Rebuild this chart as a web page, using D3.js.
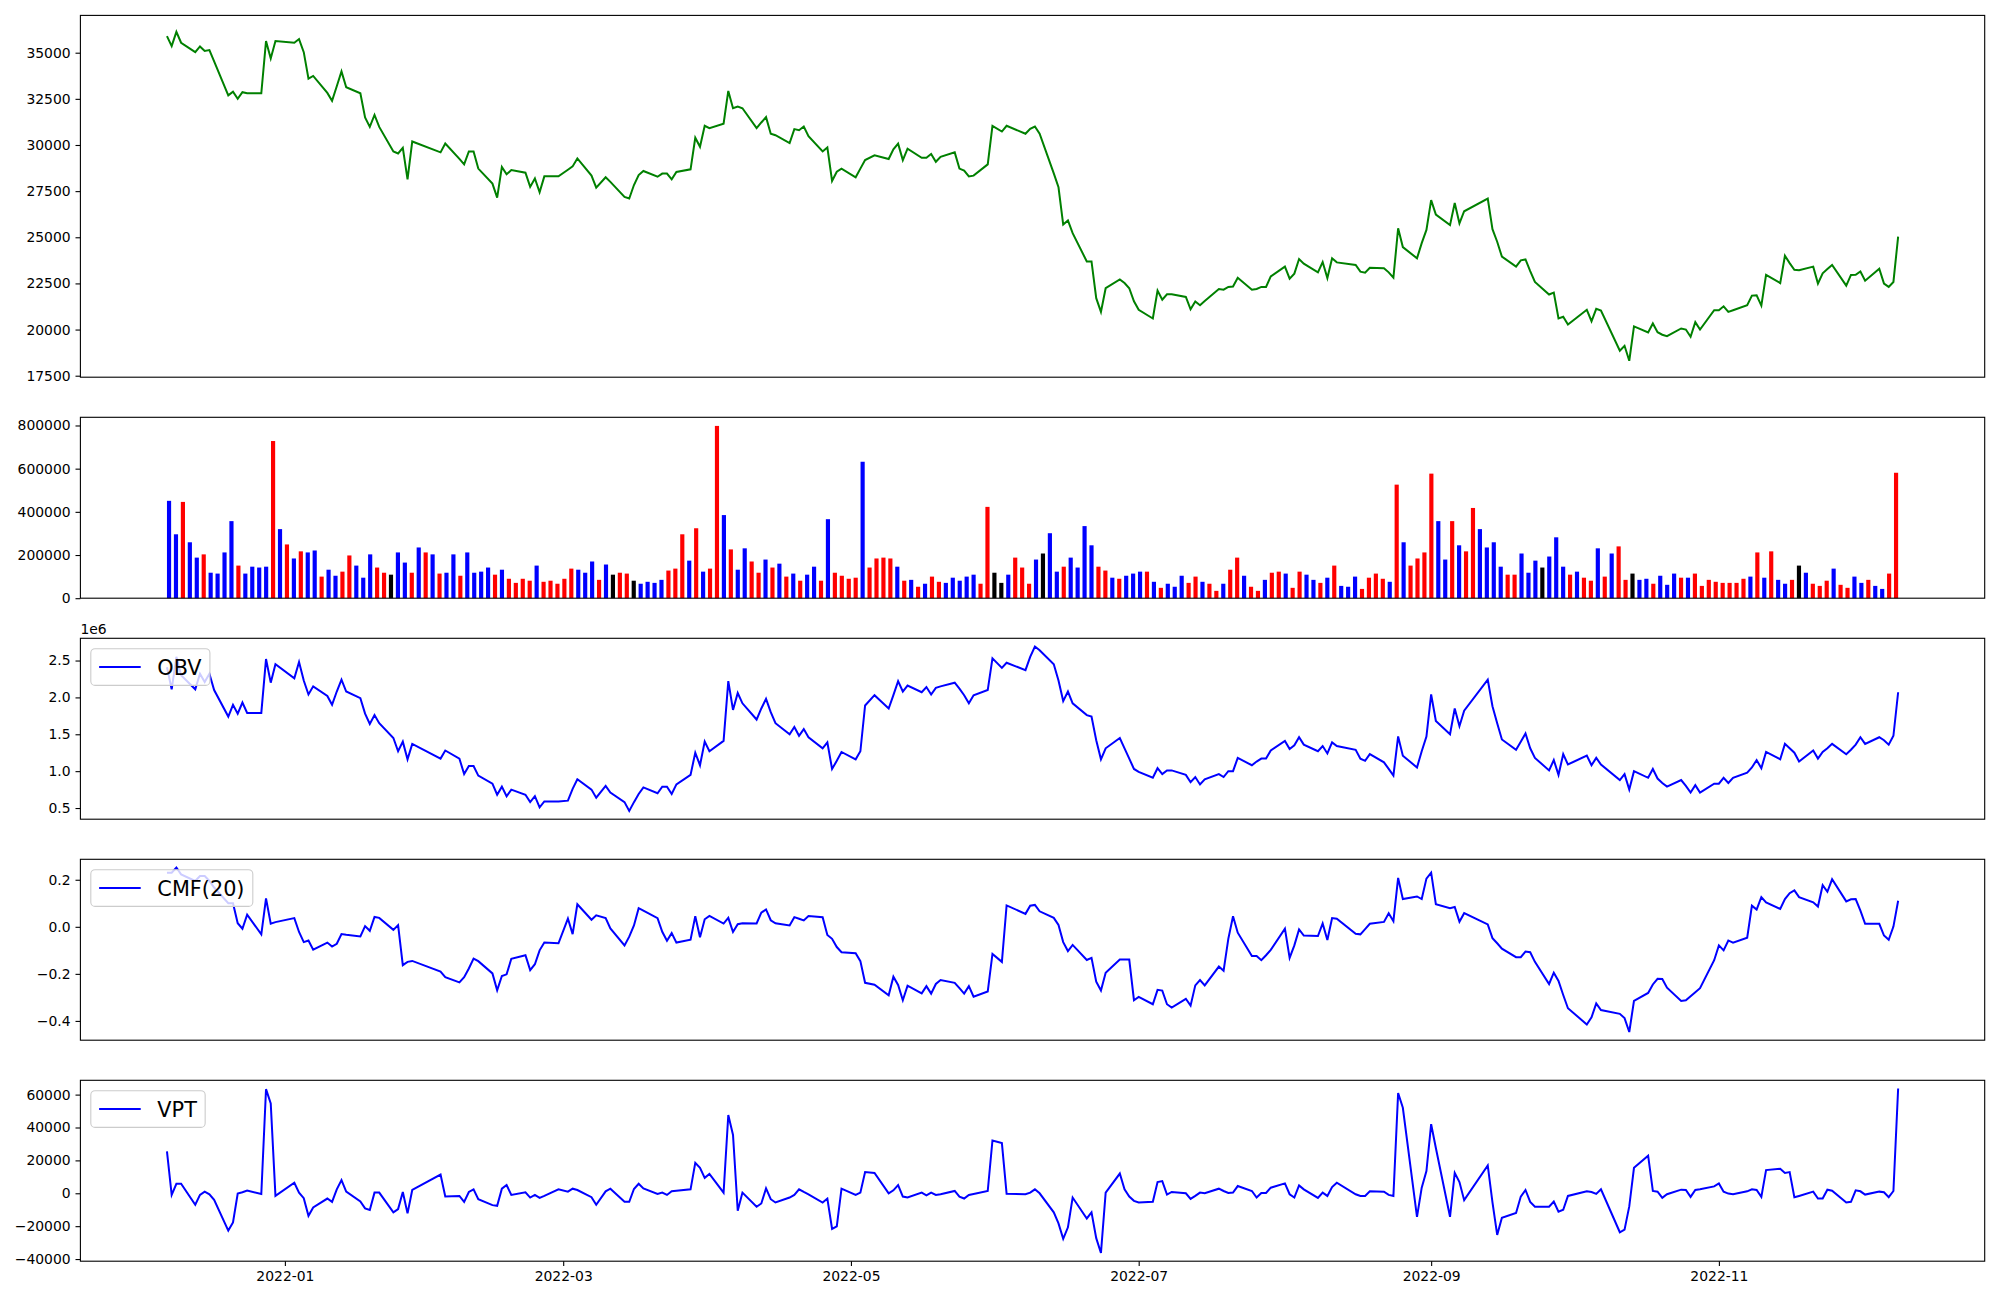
<!DOCTYPE html>
<html><head><meta charset="utf-8">
<script src="https://cdn.jsdelivr.net/npm/d3@7"></script>
<style>body{margin:0;background:#fff}svg{display:block}</style>
</head><body><svg id="c" width="2000" height="1300"></svg>
<script>
const dates = [
"2021-12-07","2021-12-08","2021-12-09","2021-12-10","2021-12-13","2021-12-14","2021-12-15","2021-12-16","2021-12-17","2021-12-20","2021-12-21","2021-12-22","2021-12-23","2021-12-24","2021-12-27","2021-12-28","2021-12-29","2021-12-30",
"2022-01-03","2022-01-04","2022-01-05","2022-01-06","2022-01-07","2022-01-10","2022-01-11","2022-01-12","2022-01-13","2022-01-14","2022-01-17","2022-01-18","2022-01-19","2022-01-20","2022-01-21","2022-01-24","2022-01-25","2022-01-26","2022-01-27","2022-01-28",
"2022-02-03","2022-02-04","2022-02-07","2022-02-08","2022-02-09","2022-02-10","2022-02-11","2022-02-14","2022-02-15","2022-02-16","2022-02-17","2022-02-18","2022-02-21","2022-02-22","2022-02-23","2022-02-24","2022-02-25","2022-02-28",
"2022-03-02","2022-03-03","2022-03-04","2022-03-07","2022-03-08","2022-03-10","2022-03-11","2022-03-14","2022-03-15","2022-03-16","2022-03-17","2022-03-18","2022-03-21","2022-03-22","2022-03-23","2022-03-24","2022-03-25","2022-03-28","2022-03-29","2022-03-30","2022-03-31",
"2022-04-01","2022-04-04","2022-04-05","2022-04-06","2022-04-07","2022-04-08","2022-04-11","2022-04-12","2022-04-13","2022-04-14","2022-04-15","2022-04-18","2022-04-19","2022-04-20","2022-04-21","2022-04-22","2022-04-25","2022-04-26","2022-04-27","2022-04-28","2022-04-29",
"2022-05-02","2022-05-03","2022-05-04","2022-05-06","2022-05-09","2022-05-10","2022-05-11","2022-05-12","2022-05-13","2022-05-16","2022-05-17","2022-05-18","2022-05-19","2022-05-20","2022-05-23","2022-05-24","2022-05-25","2022-05-26","2022-05-27","2022-05-30","2022-05-31",
"2022-06-02","2022-06-03","2022-06-07","2022-06-08","2022-06-09","2022-06-10","2022-06-13","2022-06-14","2022-06-15","2022-06-16","2022-06-17","2022-06-20","2022-06-21","2022-06-22","2022-06-23","2022-06-24","2022-06-27","2022-06-28","2022-06-29","2022-06-30",
"2022-07-01","2022-07-04","2022-07-05","2022-07-06","2022-07-07","2022-07-08","2022-07-11","2022-07-12","2022-07-13","2022-07-14","2022-07-15","2022-07-18","2022-07-19","2022-07-20","2022-07-21","2022-07-22","2022-07-25","2022-07-26","2022-07-27","2022-07-28","2022-07-29",
"2022-08-01","2022-08-02","2022-08-03","2022-08-04","2022-08-05","2022-08-08","2022-08-09","2022-08-10","2022-08-11","2022-08-12","2022-08-16","2022-08-17","2022-08-18","2022-08-19","2022-08-22","2022-08-23","2022-08-24","2022-08-25","2022-08-26","2022-08-29","2022-08-30","2022-08-31",
"2022-09-01","2022-09-02","2022-09-05","2022-09-06","2022-09-07","2022-09-08","2022-09-13","2022-09-14","2022-09-15","2022-09-16","2022-09-19","2022-09-20","2022-09-21","2022-09-22","2022-09-23","2022-09-26","2022-09-27","2022-09-28","2022-09-29","2022-09-30",
"2022-10-04","2022-10-05","2022-10-06","2022-10-07","2022-10-11","2022-10-12","2022-10-13","2022-10-14","2022-10-17","2022-10-18","2022-10-19","2022-10-20","2022-10-21","2022-10-24","2022-10-25","2022-10-26","2022-10-27","2022-10-28","2022-10-31",
"2022-11-01","2022-11-02","2022-11-03","2022-11-04","2022-11-07","2022-11-08","2022-11-09","2022-11-10","2022-11-11","2022-11-14","2022-11-15","2022-11-16","2022-11-17","2022-11-18","2022-11-21","2022-11-22","2022-11-23","2022-11-24","2022-11-25","2022-11-28","2022-11-29","2022-11-30",
"2022-12-01","2022-12-02","2022-12-05","2022-12-06","2022-12-07","2022-12-08","2022-12-09"];

const closePrice = [
35900,35360,36130,35540,35030,35340,35090,35140,34530,32690,32890,32500,32860,32800,32800,35630,34690,35630,
35540,35740,35030,33590,33740,32820,32390,33180,33990,33130,32800,31490,30980,31630,30980,29650,29540,29850,28140,30190,
29600,30080,29250,28950,29650,29650,28720,27910,27150,28810,28410,28640,28500,27730,28190,27440,28300,28300,
28660,28840,29270,28340,27690,28250,28000,27190,27100,27830,28370,28590,28280,28450,28450,28140,28540,28680,30390,29900,31040,
30910,31150,32930,31990,32080,31990,30910,31220,31510,30610,30530,30100,30860,30800,31000,30480,29650,29870,28050,28550,28720,
28250,28720,29180,29440,29240,29760,30070,29180,29800,29310,29310,29510,29090,29360,29600,28720,28610,28300,28340,28950,31040,
30730,31040,30610,30880,31000,30610,28460,27710,25690,25910,25220,23690,23690,21700,20960,22240,22720,22520,22240,21530,
21070,20600,22110,21620,21910,21910,21770,21100,21520,21320,21550,22200,22160,22310,22330,22810,22160,22200,22310,22310,22880,
23410,22760,23030,23820,23570,23100,23660,22790,23860,23640,23500,23140,23080,23350,23320,23100,22810,25490,24470,23860,24680,25400,
27010,26230,25660,26860,25750,26410,27100,25440,24760,23950,23410,23750,23800,23170,22580,21900,22000,20600,20690,20270,
21070,20450,21120,21030,18850,19120,18310,20170,19840,20330,19860,19720,19640,20060,20000,19610,20400,20000,21050,
21050,21260,20960,21050,21320,21840,21860,21300,22960,22520,24000,23600,23240,23210,23410,22490,23050,23280,23500,22380,22960,22970,
23150,22650,23300,22490,22310,22580,25040];

const volume = [
451000,296000,446000,259000,188000,203000,118000,114000,212000,357000,
151000,114000,146000,142000,146000,728000,320000,249000,184000,217000,
212000,221000,100000,132000,104000,123000,198000,151000,95000,203000,
142000,118000,109000,212000,165000,118000,235000,212000,203000,114000,
118000,203000,104000,212000,118000,123000,142000,109000,132000,90000,
71000,90000,81000,151000,76000,81000,67000,90000,137000,132000,
118000,170000,85000,156000,109000,118000,114000,81000,67000,76000,
71000,85000,128000,137000,296000,174000,324000,123000,137000,798000,
385000,226000,132000,231000,170000,118000,179000,142000,160000,100000,
114000,81000,109000,146000,81000,366000,118000,104000,90000,95000,
632000,142000,184000,188000,184000,146000,81000,85000,53000,67000,
100000,76000,71000,95000,81000,100000,109000,67000,423000,118000,
71000,109000,188000,142000,67000,179000,207000,301000,123000,146000,
188000,142000,334000,245000,146000,128000,95000,90000,104000,114000,
123000,123000,76000,48000,67000,53000,104000,71000,100000,76000,
67000,34000,67000,132000,188000,104000,53000,34000,85000,118000,
123000,114000,48000,123000,109000,85000,71000,95000,151000,57000,
53000,100000,43000,95000,114000,90000,76000,526000,259000,151000,
184000,212000,577000,357000,179000,357000,245000,217000,418000,320000,
235000,259000,146000,109000,109000,207000,118000,174000,142000,193000,
282000,146000,109000,123000,95000,81000,231000,100000,207000,240000,
85000,114000,85000,90000,67000,104000,62000,114000,95000,95000,
114000,57000,85000,76000,71000,71000,71000,90000,100000,212000,
95000,217000,85000,67000,85000,151000,118000,67000,57000,81000,
137000,62000,48000,100000,71000,85000,57000,43000,114000,581000];

// r = red, b = blue, k = black (one letter per bar)
const volColorRows = [
"bbrbbrbbbb","rbbbbrbrbr","bbrbbrrbbb","rrkbbrbrbr","bbrbbbbrbr",
"rrrbrrrrrb","bbrbkrrkbb","bbrrrbrbrr","brbbrrbrbr","brbbrbrrrr",
"brrrrbrbrb","rrbbbbbrrk","kbrrrbkbbr","bbbbrrbrbb","brbrbbbrrb",
"rrbrrbrrbr","rbrrbbrbrb","bbrrrrbrbr","rrrbbrbrrb","bbbrrbbbkb",
"bbrbrrbrbr","rkbbrbbbrb","rrrrrrrrbr","brbbrkbrrr","brrbbrbbrr"];

// On-balance volume, in units of 1e6
const obv = [
2.41,2.11,2.55,2.30,2.11,2.32,2.21,2.32,2.10,1.74,1.90,1.78,1.93,1.79,1.79,2.52,2.20,2.45,
2.26,2.48,2.23,2.04,2.15,2.02,1.90,2.08,2.24,2.08,1.99,1.78,1.64,1.76,1.65,1.45,1.27,1.40,1.16,1.37,
1.17,1.28,1.17,0.96,1.07,1.07,0.94,0.83,0.68,0.79,0.66,0.75,0.68,0.58,0.66,0.51,0.59,0.59,
0.60,0.76,0.89,0.75,0.64,0.80,0.71,0.58,0.46,0.58,0.69,0.78,0.70,0.79,0.79,0.69,0.82,0.95,1.25,1.08,1.40,
1.27,1.41,2.22,1.83,2.06,1.92,1.70,1.85,1.98,1.80,1.65,1.50,1.60,1.48,1.57,1.46,1.31,1.39,1.03,1.14,1.26,
1.16,1.27,1.89,2.03,1.85,2.03,2.22,2.08,2.16,2.07,2.14,2.04,2.13,2.15,2.20,2.12,2.03,1.92,2.03,2.10,2.53,
2.40,2.47,2.37,2.55,2.69,2.64,2.45,2.23,1.95,2.08,1.92,1.76,1.74,1.42,1.16,1.31,1.45,1.31,1.17,1.03,
0.99,0.91,1.04,0.96,1.01,1.01,0.95,0.85,0.92,0.82,0.89,0.96,0.92,1.00,1.00,1.18,1.08,1.13,1.17,1.17,1.28,
1.41,1.30,1.35,1.46,1.36,1.27,1.34,1.24,1.39,1.34,1.29,1.17,1.14,1.23,1.12,1.03,0.94,1.47,1.21,1.05,1.27,1.47,
2.04,1.68,1.50,1.85,1.61,1.82,2.24,1.88,1.65,1.43,1.29,1.40,1.51,1.31,1.18,1.01,1.15,0.95,1.23,1.09,
1.21,1.08,1.18,1.09,0.88,0.96,0.75,1.00,0.91,1.03,0.90,0.84,0.79,0.88,0.80,0.71,0.81,0.71,0.83,
0.83,0.91,0.84,0.91,0.98,1.05,1.15,1.04,1.26,1.16,1.37,1.31,1.25,1.13,1.28,1.17,1.26,1.31,1.37,1.23,1.29,1.36,
1.46,1.37,1.46,1.42,1.36,1.48,2.07];

const cmf = [
0.230,0.230,0.252,0.223,0.195,0.216,0.216,0.195,0.167,0.100,0.100,0.015,-0.008,0.052,-0.032,0.121,0.013,0.020,
0.037,-0.022,-0.065,-0.058,-0.097,-0.067,-0.084,-0.072,-0.031,-0.034,-0.041,0.003,-0.017,0.042,0.038,-0.013,0.007,-0.163,-0.149,-0.145,
-0.190,-0.214,-0.236,-0.214,-0.177,-0.135,-0.146,-0.198,-0.270,-0.209,-0.202,-0.136,-0.121,-0.184,-0.159,-0.100,-0.067,-0.070,
0.035,-0.031,0.096,0.030,0.049,0.037,-0.007,-0.079,-0.042,0.006,0.079,0.069,0.037,-0.021,-0.059,-0.027,-0.067,-0.055,0.045,-0.044,0.032,
0.046,0.014,0.038,-0.022,0.011,0.015,0.014,0.060,0.074,0.028,0.015,0.006,0.041,0.034,0.027,0.046,0.041,-0.035,-0.051,-0.086,-0.108,
-0.112,-0.146,-0.238,-0.246,-0.291,-0.212,-0.247,-0.312,-0.250,-0.283,-0.252,-0.284,-0.243,-0.226,-0.238,-0.261,-0.284,-0.252,-0.297,-0.275,-0.115,
-0.149,0.091,0.055,0.090,0.093,0.066,0.038,0.008,-0.065,-0.103,-0.077,-0.141,-0.132,-0.233,-0.271,-0.195,-0.139,-0.139,-0.139,-0.312,
-0.298,-0.329,-0.268,-0.271,-0.329,-0.343,-0.306,-0.335,-0.249,-0.226,-0.249,-0.169,-0.187,-0.051,0.045,-0.025,-0.124,-0.124,-0.142,-0.121,-0.098,
-0.008,-0.132,-0.079,-0.011,-0.037,-0.039,0.014,-0.056,0.037,0.034,-0.030,-0.032,-0.010,0.013,0.021,0.058,0.024,0.208,0.118,0.129,0.118,0.205,
0.230,0.096,0.079,0.084,0.022,0.058,0.010,-0.048,-0.070,-0.093,-0.129,-0.129,-0.105,-0.108,-0.149,-0.243,-0.195,-0.230,-0.290,-0.346,
-0.415,-0.385,-0.326,-0.354,-0.370,-0.388,-0.447,-0.315,-0.281,-0.245,-0.221,-0.222,-0.259,-0.315,-0.312,-0.295,-0.278,-0.261,-0.142,
-0.079,-0.100,-0.058,-0.067,-0.046,0.090,0.073,0.126,0.104,0.076,0.118,0.143,0.155,0.126,0.104,0.086,0.177,0.149,0.202,0.108,0.117,0.118,
0.069,0.013,0.013,-0.037,-0.055,0.001,0.111];

const vpt = [
25500,-1000,5800,5800,-7000,-1000,1000,-600,-4000,-22700,-17700,-200,600,1600,-400,63300,54600,-1600,
6400,400,-3000,-13700,-8600,-3200,-5200,2400,8000,1000,-5000,-9200,-10200,400,400,-11600,-9600,800,-12200,2000,
11400,-2000,-1600,-5200,800,2400,-3600,-7200,-7600,2800,5000,-1000,600,-2600,-1000,-2800,-1600,2400,
1000,2800,2000,-2400,-7000,1200,2800,-5200,-5200,2600,5800,3000,-400,400,-1000,1200,1600,2400,18500,15500,9400,
11800,400,47600,35500,-10600,400,-8200,-6200,3000,-3600,-5600,-2600,-1000,2400,800,-600,-5600,-3200,-21700,-20100,2800,
-1000,400,12900,12400,0,1800,5000,-2000,-2600,400,-1200,400,-1000,-600,1400,-2000,-3200,-1000,-400,1400,32100,
30500,-300,-600,400,2400,0,-11600,-18300,-27700,-20700,-2600,-15300,-11600,-27300,-36300,400,12000,2400,-2000,-4600,
-5600,-5200,6800,7400,-800,800,0,-3400,-1600,400,0,2800,1400,200,400,4400,1400,-2600,200,200,3400,
6000,-600,-2600,4800,2400,-2800,400,-1600,3800,6400,-600,-1600,-1600,1200,1000,-1000,-1600,61000,52000,-14300,3400,13500,
42000,27500,-14300,12400,6800,-4200,16900,-5600,-25300,-14900,-12000,-2000,2000,-5200,-8200,-8200,-5000,-11200,-10000,-1600,
1200,800,-400,2400,-23700,-22100,-8000,15500,22900,1400,1000,-2800,-600,2200,2000,-2200,2000,2400,4200,
6000,1000,-200,-600,1200,2400,2000,-2200,14100,14900,12400,12900,-2400,-1600,1000,-3200,-3200,2200,1600,-5600,-5200,1800,
1200,-800,1000,600,-2400,1400,63700];

const priceTicks = [17500,20000,22500,25000,27500,30000,32500,35000];
const volTicks = [0,200000,400000,600000,800000];
const obvTicks = [0.5,1.0,1.5,2.0,2.5];
const cmfTicks = [-0.4,-0.2,0.0,0.2];
const vptTicks = [-40000,-20000,0,20000,40000,60000];
const xTickDates = ["2022-01-01","2022-03-01","2022-05-01","2022-07-01","2022-09-01","2022-11-01"];
const xTickLabels = ["2022-01","2022-03","2022-05","2022-07","2022-09","2022-11"];
const legendLabels = ["OBV","CMF(20)","VPT"];

// ---------------- drawing ----------------
const svg = d3.select("#c");
const FONT = "DejaVu Sans, sans-serif";
const L = 80.4, R = 1984.7;
const panels = [
  {top:15.4, h:361.8},
  {top:417.3, h:180.9},
  {top:638.3, h:180.9},
  {top:859.3, h:180.9},
  {top:1080.3, h:180.9}
];
const parse = d3.utcParse("%Y-%m-%d");
const D = dates.map(parse);
const N = D.length;
const span = D[N-1] - D[0];
const x = d3.scaleUtc()
  .domain([new Date(+D[0] - 0.05*span), new Date(+D[N-1] + 0.05*span)])
  .range([L, R]);

function padded(arr){
  const [a,b] = d3.extent(arr); const p = (b-a)*0.05; return [a-p, b+p];
}
function yScale(p, domain){
  return d3.scaleLinear().domain(domain).range([p.top + p.h, p.top]);
}
function yAxis(y, ticks, fmt){
  const g = svg.append("g").attr("transform", `translate(${L},0)`)
    .call(d3.axisLeft(y).tickValues(ticks).tickFormat(fmt).tickSize(4.9).tickPadding(4.9));
  g.select(".domain").remove();
  g.selectAll("line").attr("stroke","#000").attr("stroke-width",1.1);
  g.selectAll("text").attr("font-family",FONT).attr("font-size",13.9).attr("fill","#000");
  g.attr("font-family",null).attr("font-size",null);
}
function frame(p){
  svg.append("rect").attr("x",L).attr("y",p.top).attr("width",R-L).attr("height",p.h)
    .attr("fill","none").attr("stroke","#000").attr("stroke-width",1.1);
}
function drawLine(values, y, color, p){
  const clipId = "clip" + Math.round(p.top);
  svg.append("clipPath").attr("id",clipId).append("rect")
    .attr("x",L).attr("y",p.top).attr("width",R-L).attr("height",p.h);
  svg.append("path").datum(values)
    .attr("clip-path",`url(#${clipId})`)
    .attr("d", d3.line().x((d,i)=>x(D[i])).y(d=>y(d)))
    .attr("fill","none").attr("stroke",color).attr("stroke-width",2.0)
    .attr("stroke-linejoin","miter").attr("stroke-linecap","butt");
}
function legend(p, label){
  const fs = 20.8;
  const g = svg.append("g");
  const left = L + 0.5*fs, top = p.top + 0.5*fs;
  const rect = g.append("rect").attr("x",left).attr("y",top).attr("height",36.7)
    .attr("rx",4.2).attr("ry",4.2)
    .attr("fill","#fff").attr("fill-opacity",0.8)
    .attr("stroke","#cccccc").attr("stroke-width",1.1);
  const cy = top + 36.7/2;
  g.append("line").attr("x1",left+0.4*fs).attr("x2",left+0.4*fs+2.0*fs)
    .attr("y1",cy).attr("y2",cy).attr("stroke","#0000ff").attr("stroke-width",2.0);
  const t = g.append("text").attr("x",left+0.4*fs+2.0*fs+0.8*fs).attr("y",cy)
    .attr("dy","0.36em").attr("font-family",FONT).attr("font-size",fs).attr("fill","#000").text(label);
  const tw = t.node().getComputedTextLength();
  rect.attr("width", 0.4*fs*2 + 2.0*fs + 0.8*fs + tw);
}

// Panel 1: price
{
  const p = panels[0];
  const y = yScale(p, padded(closePrice));
  drawLine(closePrice, y, "#008000", p);
  yAxis(y, priceTicks, d3.format("d"));
  frame(p);
}
// Panel 2: volume bars (index-based x)
{
  const p = panels[1];
  const w = 0.6;
  const lo = -w/2, hi = N-1+w/2, m = 0.05*(hi-lo);
  const xb = d3.scaleLinear().domain([lo-m, hi+m]).range([L, R]);
  const y = d3.scaleLinear().domain([0, d3.max(volume)*1.05]).range([p.top+p.h, p.top]);
  const colorMap = {r:"#ff0000", b:"#0000ff", k:"#000000"};
  const cols = volColorRows.join("").split("");
  svg.append("g").selectAll("rect").data(volume).join("rect")
    .attr("x",(d,i)=>xb(i - w/2))
    .attr("width", xb(w) - xb(0))
    .attr("y", d=>y(d))
    .attr("height", d=>y(0)-y(d))
    .attr("fill",(d,i)=>colorMap[cols[i]]);
  yAxis(y, volTicks, d3.format("d"));
  frame(p);
}
// Panel 3: OBV
{
  const p = panels[2];
  const y = yScale(p, padded(obv));
  drawLine(obv, y, "#0000ff", p);
  yAxis(y, obvTicks, d3.format(".1f"));
  frame(p);
  legend(p, legendLabels[0]);
  svg.append("text").attr("x",L).attr("y",p.top-4.5).attr("font-family",FONT)
    .attr("font-size",13.9).attr("fill","#000").text("1e6");
}
// Panel 4: CMF
{
  const p = panels[3];
  const y = yScale(p, padded(cmf));
  drawLine(cmf, y, "#0000ff", p);
  yAxis(y, cmfTicks, d3.format(".1f"));
  frame(p);
  legend(p, legendLabels[1]);
}
// Panel 5: VPT + date axis
{
  const p = panels[4];
  const y = yScale(p, padded(vpt));
  drawLine(vpt, y, "#0000ff", p);
  yAxis(y, vptTicks, d3.format("d"));
  frame(p);
  legend(p, legendLabels[2]);
  const g = svg.append("g").attr("transform",`translate(0,${p.top+p.h})`)
    .call(d3.axisBottom(x).tickValues(xTickDates.map(parse))
      .tickFormat((d,i)=>xTickLabels[i]).tickSize(4.9).tickPadding(4.9));
  g.select(".domain").remove();
  g.selectAll("line").attr("stroke","#000").attr("stroke-width",1.1);
  g.selectAll("text").attr("font-family",FONT).attr("font-size",13.9).attr("fill","#000");
}
</script></body></html>
